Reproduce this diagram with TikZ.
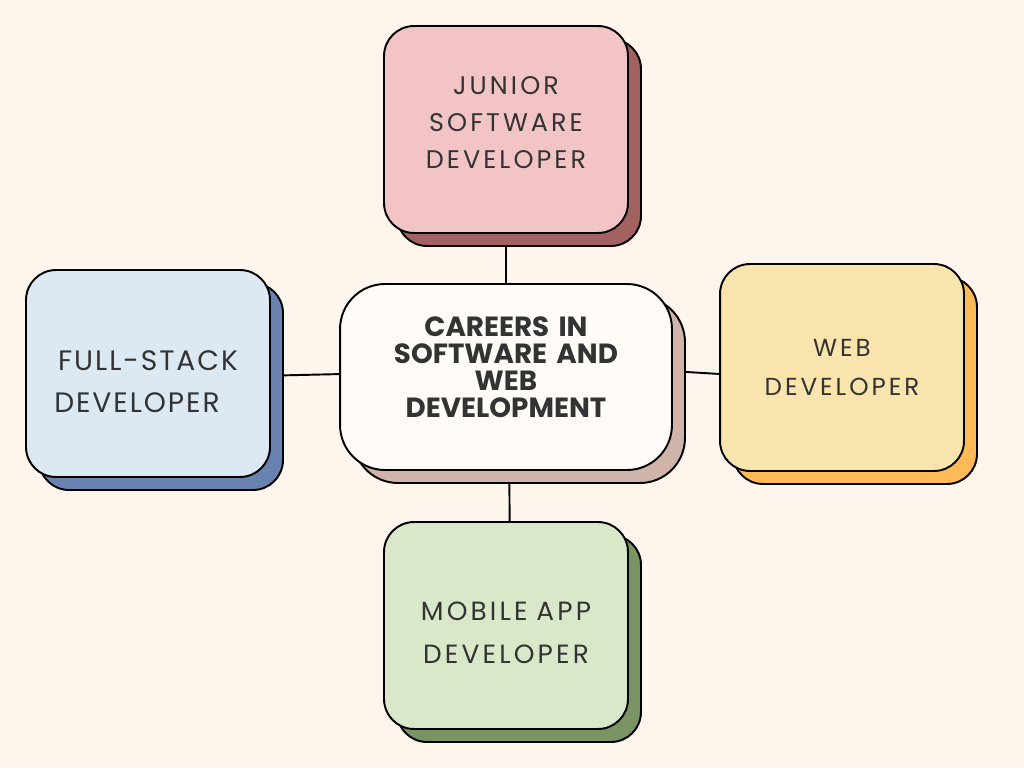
\documentclass[tikz,border=0pt]{standalone}
\usepackage{fontspec}
\setmainfont{Poppins}
\newfontfamily\careerfont[LetterSpace=12]{Poppins}
\usetikzlibrary{shadows,backgrounds}
\definecolor{pagebg}{HTML}{FEF5EC}
\definecolor{inktext}{HTML}{333333}
\definecolor{juniorfill}{HTML}{F2C4C6}
\definecolor{juniorshade}{HTML}{A26262}
\definecolor{hubfill}{HTML}{FFFCF7}
\definecolor{hubshade}{HTML}{D0B4AA}
\definecolor{stackfill}{HTML}{DCE8F2}
\definecolor{stackshade}{HTML}{6A82B0}
\definecolor{webfill}{HTML}{F9E4AE}
\definecolor{webshade}{HTML}{FDBA57}
\definecolor{mobilefill}{HTML}{D9E8C9}
\definecolor{mobileshade}{HTML}{7A9463}
\newcommand{\CareerShift}{0.26}

\begin{document}
\begin{tikzpicture}[x=0.02cm, y=-0.02cm,
		careerbox/.style={draw=black, line width=1.1pt, rounded corners=0.6cm,
			minimum width=4.88cm, minimum height=4.14cm, text width=4.4cm,
			align=center, text=inktext, text height=0.4cm,
			font=\careerfont\fontsize{14.5}{21}\selectfont},
		shade/.style={copy shadow={shadow xshift=\CareerShift cm, shadow yshift=-\CareerShift cm,
			fill=#1, draw=black, line width=1.1pt}},
		link/.style={draw=black, line width=1.1pt}]
	\useasboundingbox (0,0) rectangle (1024,768);
	% hub
	\node[careerbox, shade=hubshade, fill=hubfill, minimum width=6.64cm, minimum height=3.72cm,
		rounded corners=0.9cm, text width=6cm, text depth=2.02cm,
		font=\bfseries\fontsize{15.8}{15.3}\selectfont] (hub) at (506,377)
		{CAREERS IN\\SOFTWARE AND\\WEB\\DEVELOPMENT};
	% careers
	\node[careerbox, shade=juniorshade, fill=juniorfill, text depth=1.8cm] (junior) at (506,129.5)
		{JUNIOR\\SOFTWARE\\DEVELOPER};
	\node[careerbox, shade=stackshade, fill=stackfill, text depth=0.54cm,
		font=\careerfont\addfontfeature{LetterSpace=7}\fontsize{16}{24.4}\selectfont] (stack) at (148,373.5)
		{FULL-STACK\hspace*{0.26cm}\\DEVELOPER\hspace*{0.44cm}};
	\node[careerbox, shade=webshade, fill=webfill, text depth=0.86cm,
		font=\careerfont\fontsize{14}{22.7}\selectfont] (web) at (842,367.5)
		{WEB\\DEVELOPER};
	\node[careerbox, shade=mobileshade, fill=mobilefill, text depth=0.6cm,
		font=\careerfont\fontsize{15}{24.4}\selectfont] (mobile) at (506,625.5)
		{MOBILE APP\\DEVELOPER};
	\begin{scope}[on background layer]
		\fill[pagebg] (0,0) rectangle (1024,768);
		\draw[link] (junior.south) -- (hub.north);
		\draw[link] (stack.359) -- (hub.179.3);
		\draw[link] (hub.2) -- (web.183);
		\draw[link] (hub.-88) -- (mobile.88);
	\end{scope}
\end{tikzpicture}
\end{document}
